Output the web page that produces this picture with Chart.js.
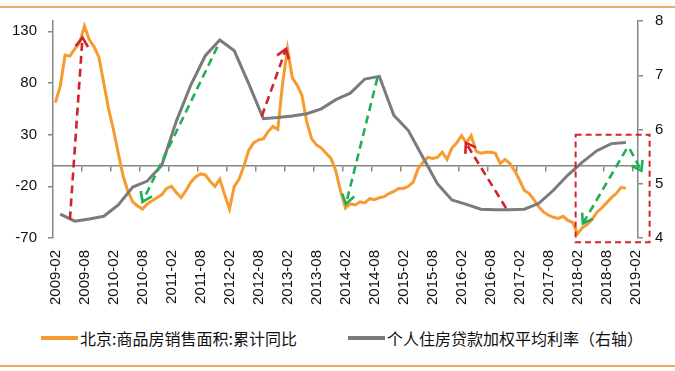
<!DOCTYPE html>
<html>
<head>
<meta charset="utf-8">
<script src="https://cdn.jsdelivr.net/npm/chart.js@4.4.1/dist/chart.umd.min.js"></script>
<style>
    body { margin: 0; background: #fff; }
    .wrap { position: relative; width: 675px; height: 371px; overflow: hidden; background: #fff; }
    .rule { position: absolute; left: 0; width: 675px; height: 2px; background: #EEA868; }
    .chart-box { position: absolute; left: 0; top: 0; width: 675px; height: 318px; }
    .legend-item {
        position: absolute; top: 326px; height: 24px;
        display: flex; align-items: center;
        font-family: "Noto Sans CJK SC", sans-serif; font-size: 16px; color: #111;
        white-space: nowrap;
    }
    .legend-line { display: inline-block; width: 37px; height: 4px; margin-right: 2px; }
</style>
</head>
<body>
<div class="wrap">
    <div class="rule" style="top:6px"></div>
    <div class="chart-box"><canvas id="rateChart" width="675" height="318"></canvas></div>
    <div class="legend-item" style="left:41px"><span class="legend-line" style="background:#F59B2F"></span>北京:商品房销售面积:累计同比</div>
    <div class="legend-item" style="left:348px"><span class="legend-line" style="background:#7B7B7B"></span>个人住房贷款加权平均利率（右轴）</div>
    <div class="rule" style="top:365px"></div>
</div>
<script>
// Beijing new home sales area, cumulative YoY (%), monthly from 2009-02
const beijingSalesYoY = [
    61, 77, 107, 106, 113, 119, 135, 122, 115, 105, 80, 55,
    35, 12, -10, -25, -35, -39, -42, -37, -34, -31, -28, -22,
    -20, -26, -31, -24, -16, -11, -8, -9, -15, -20, -13, -28,
    -42, -20, -13, 0, 15, 22, 25, 26, 33, 38, 35, 80,
    113, 85, 78, 68, 42, 26, 20, 17, 12, 7, -5, -25,
    -41, -37, -38, -35, -36, -32, -33, -31, -30, -27, -25, -22,
    -22, -20, -16, -3, 3, 8, 7, 8, 13, 6, 17, 22,
    29, 22, 29, 14, 12, 13, 13, 12, 2, 6, 2, -5,
    -14, -24, -27, -33, -40, -45, -48, -50, -51, -49, -53, -55,
    -66, -60, -57, -52, -45, -41, -36, -31, -27, -21, -22
];

// weighted average mortgage rate (%), quarterly, first value at 2009-03
const loanRateQuarterly = [
    4.44, 4.31, 4.35, 4.40, 4.61, 4.94, 5.05, 5.34, 6.15, 6.82,
    7.36, 7.65, 7.45, 6.84, 6.20, 6.22, 6.25, 6.29, 6.38, 6.55,
    6.67, 6.93, 6.98, 6.26, 5.98, 5.49, 5.00, 4.70, 4.62, 4.53,
    4.52, 4.52, 4.53, 4.64, 4.88, 5.16, 5.40, 5.61, 5.74, 5.76
];
const loanRateFirstMonth = '2009-03';

const leftTicks = [-70, -20, 30, 80, 130];
const rightTicks = [4, 5, 6, 7, 8];

// month labels 2009-02 .. 2019-02
const months = [];
for (let k = 0; k < 121; k++) {
    const year = 2009 + Math.floor((k + 1) / 12);
    const month = (k + 1) % 12 + 1;
    months.push(year + '-' + String(month).padStart(2, '0'));
}

// hand-drawn trend arrows, in (month index, left-axis value)
const RED = '#D2232A';
const GREEN = '#1FAF55';
const trendArrows = [
    { from: [3.0, -52], to: [5.6, 124], color: RED },
    { from: [33.5, 115], to: [18.0, -35], color: GREEN },
    { from: [42.7, 48], to: [47.7, 113], color: RED },
    { from: [66.6, 85], to: [60.1, -37], color: GREEN },
    { from: [93.2, -41], to: [84.9, 22], color: RED },
    { from: [118.1, 16], to: [109.1, -56], color: GREEN },
    { from: [118.8, 16], to: [121.2, -5], color: GREEN }
];
const focusBox = { from: [107.6, 30], to: [122.9, -74] };

const AXIS_GRAY = '#868686';

Chart.defaults.font.family = '"Liberation Sans", Arial, sans-serif';
Chart.defaults.font.size = 15;
Chart.defaults.color = '#111';

const arrowsPlugin = {
    id: 'trendArrows',
    afterDatasetsDraw(chart) {
        const ctx = chart.ctx;
        const x = chart.scales.x;
        const y = chart.scales.y;
        ctx.save();
        ctx.lineCap = 'butt';

        trendArrows.forEach(a => {
            const x1 = x.getPixelForValue(a.from[0]);
            const y1 = y.getPixelForValue(a.from[1]);
            const x2 = x.getPixelForValue(a.to[0]);
            const y2 = y.getPixelForValue(a.to[1]);
            ctx.strokeStyle = a.color;
            ctx.lineWidth = 2.6;
            ctx.setLineDash([8, 5]);
            ctx.beginPath();
            ctx.moveTo(x1, y1);
            ctx.lineTo(x2, y2);
            ctx.stroke();

            // open arrow head
            const ang = Math.atan2(y2 - y1, x2 - x1);
            const len = 11;
            ctx.setLineDash([]);
            ctx.beginPath();
            ctx.moveTo(x2 - len * Math.cos(ang - 0.6), y2 - len * Math.sin(ang - 0.6));
            ctx.lineTo(x2, y2);
            ctx.lineTo(x2 - len * Math.cos(ang + 0.6), y2 - len * Math.sin(ang + 0.6));
            ctx.stroke();
        });

        const bx1 = x.getPixelForValue(focusBox.from[0]);
        const by1 = y.getPixelForValue(focusBox.from[1]);
        const bx2 = x.getPixelForValue(focusBox.to[0]);
        const by2 = y.getPixelForValue(focusBox.to[1]);
        ctx.strokeStyle = RED;
        ctx.lineWidth = 2;
        ctx.setLineDash([6, 4]);
        ctx.strokeRect(bx1, by1, bx2 - bx1, by2 - by1);
        ctx.restore();
    }
};

const ctx = document.getElementById('rateChart');

new Chart(ctx, {
    type: 'line',
    data: {
        labels: months,
        datasets: [
            {
                label: '北京:商品房销售面积:累计同比',
                data: beijingSalesYoY,
                borderColor: '#F59B2F',
                borderWidth: 3,
                pointRadius: 0,
                tension: 0,
                yAxisID: 'y',
                order: 1
            },
            {
                label: '个人住房贷款加权平均利率（右轴）',
                data: loanRateQuarterly.map((v, q) => ({
                    x: months[months.indexOf(loanRateFirstMonth) + q * 3],
                    y: v
                })),
                borderColor: '#7B7B7B',
                borderWidth: 3,
                pointRadius: 0,
                tension: 0,
                yAxisID: 'y1',
                order: 0
            }
        ]
    },
    options: {
        responsive: false,
        animation: false,
        layout: { padding: { top: 19, left: 0, right: 0, bottom: 0 } },
        plugins: {
            legend: { display: false },
            tooltip: { enabled: false }
        },
        scales: {
            x: {
                type: 'category',
                position: 'bottom',
                offset: true,
                grid: { display: false, drawTicks: false },
                border: { display: false },
                ticks: {
                    autoSkip: false,
                    minRotation: 90,
                    maxRotation: 90,
                    padding: 12,
                    color: '#111',
                    callback: function(value, index) {
                        return index % 6 === 0 ? months[index] : '';
                    }
                },
                afterFit: function(scale) { scale.height = 80; }
            },
            // zero line with half-year tick marks
            x2: {
                type: 'category',
                position: { y: 0 },
                offset: true,
                ticks: { display: false },
                grid: {
                    offset: true,
                    drawOnChartArea: false,
                    drawTicks: true,
                    tickLength: 5,
                    lineWidth: 1.5,
                    color: function(c) {
                        return (c.index > 0 && c.index % 6 === 0) ? AXIS_GRAY : 'rgba(0,0,0,0)';
                    }
                },
                border: { color: AXIS_GRAY, width: 1.5 }
            },
            y: {
                position: 'left',
                min: -70,
                max: 140,
                afterBuildTicks: function(scale) {
                    scale.ticks = leftTicks.map(v => ({ value: v }));
                },
                grid: { drawOnChartArea: false, tickLength: 5, color: AXIS_GRAY, lineWidth: 1.5 },
                border: { color: AXIS_GRAY, width: 1.5 },
                ticks: { padding: 11, color: '#111' },
                afterFit: function(scale) { scale.width = 53; }
            },
            y1: {
                position: 'right',
                min: 4,
                max: 8,
                afterBuildTicks: function(scale) {
                    scale.ticks = rightTicks.map(v => ({ value: v }));
                },
                grid: { drawOnChartArea: false, tickLength: 5, color: AXIS_GRAY, lineWidth: 1.5 },
                border: { color: AXIS_GRAY, width: 1.5 },
                ticks: { padding: 12, color: '#111' },
                afterFit: function(scale) { scale.width = 37; }
            }
        }
    },
    plugins: [arrowsPlugin]
});
</script>
</body>
</html>
